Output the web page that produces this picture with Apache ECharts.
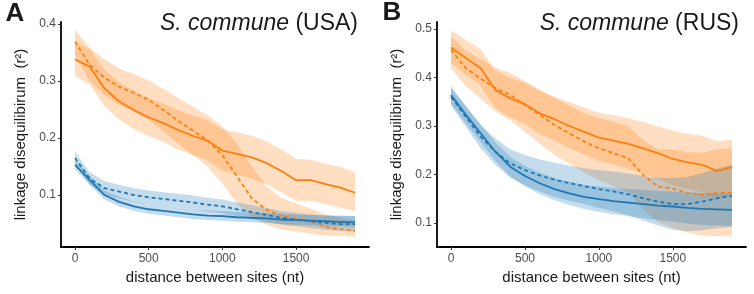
<!DOCTYPE html>
<html>
<head>
<meta charset="utf-8">
<script src="https://cdn.jsdelivr.net/npm/echarts@6/dist/echarts.min.js"></script>
<style>
  html, body { margin: 0; padding: 0; background: #fff; }
  #chart { width: 754px; height: 294px; }
</style>
</head>
<body>
<div id="chart"></div>
<script>
// distance between sites (nt)
var dist = [0,100,200,300,400,500,600,700,800,900,1000,1100,1200,1300,1400,1500,1600,1700,1800,1900];
var xTicks = [0, 500, 1000, 1500];
var usaTicks = [0.1, 0.2, 0.3, 0.4];
var rusTicks = [0.1, 0.2, 0.3, 0.4, 0.5];

// S. commune (USA)
var usaOrangeSolid   = [0.338,0.325,0.287,0.264,0.249,0.236,0.226,0.214,0.204,0.195,0.178,0.172,0.166,0.156,0.142,0.126,0.126,0.119,0.113,0.104];
var usaOrangeSolidHi = [0.370,0.356,0.320,0.298,0.283,0.270,0.260,0.249,0.239,0.231,0.215,0.210,0.204,0.194,0.180,0.163,0.162,0.155,0.149,0.140];
var usaOrangeSolidLo = [0.308,0.294,0.256,0.232,0.216,0.203,0.193,0.180,0.170,0.161,0.143,0.136,0.129,0.119,0.105,0.090,0.090,0.084,0.078,0.071];
var usaOrangeDash    = [0.369,0.328,0.306,0.290,0.279,0.267,0.249,0.230,0.213,0.196,0.170,0.132,0.094,0.074,0.063,0.059,0.053,0.044,0.040,0.037];
var usaOrangeDashHi  = [0.390,0.358,0.338,0.322,0.312,0.301,0.286,0.270,0.255,0.240,0.220,0.190,0.150,0.115,0.095,0.085,0.076,0.066,0.060,0.055];
var usaOrangeDashLo  = [0.346,0.300,0.275,0.258,0.246,0.232,0.212,0.190,0.170,0.150,0.120,0.085,0.060,0.048,0.040,0.036,0.032,0.029,0.028,0.027];
var usaBlueSolid     = [0.153,0.126,0.100,0.088,0.080,0.075,0.072,0.069,0.066,0.064,0.063,0.061,0.060,0.059,0.057,0.056,0.055,0.054,0.053,0.052];
var usaBlueSolidHi   = [0.161,0.134,0.108,0.097,0.089,0.084,0.081,0.078,0.075,0.073,0.072,0.070,0.069,0.068,0.067,0.066,0.065,0.064,0.064,0.063];
var usaBlueSolidLo   = [0.145,0.118,0.092,0.080,0.072,0.067,0.064,0.061,0.058,0.056,0.055,0.053,0.052,0.051,0.049,0.048,0.047,0.046,0.045,0.044];
var usaBlueDash      = [0.165,0.129,0.112,0.106,0.100,0.096,0.093,0.090,0.087,0.083,0.080,0.075,0.070,0.065,0.060,0.057,0.054,0.051,0.049,0.049];
var usaBlueDashHi    = [0.176,0.140,0.124,0.118,0.112,0.108,0.105,0.102,0.099,0.095,0.092,0.087,0.082,0.077,0.072,0.069,0.066,0.064,0.063,0.063];
var usaBlueDashLo    = [0.154,0.118,0.100,0.094,0.088,0.084,0.081,0.078,0.075,0.071,0.068,0.063,0.058,0.053,0.048,0.045,0.042,0.039,0.037,0.036];

// S. commune (RUS)
var rusOrangeSolid   = [0.462,0.440,0.419,0.374,0.357,0.345,0.326,0.314,0.300,0.288,0.276,0.270,0.263,0.254,0.244,0.232,0.225,0.220,0.207,0.215];
var rusOrangeSolidHi = [0.497,0.477,0.458,0.415,0.399,0.389,0.372,0.361,0.349,0.338,0.327,0.322,0.316,0.308,0.299,0.290,0.284,0.280,0.268,0.272];
var rusOrangeSolidLo = [0.430,0.406,0.383,0.336,0.318,0.304,0.283,0.270,0.254,0.241,0.228,0.220,0.212,0.202,0.191,0.178,0.170,0.164,0.150,0.158];
var rusOrangeDash    = [0.457,0.419,0.398,0.378,0.364,0.343,0.323,0.302,0.285,0.268,0.254,0.244,0.233,0.199,0.175,0.171,0.162,0.158,0.162,0.162];
var rusOrangeDashHi  = [0.485,0.455,0.438,0.420,0.410,0.392,0.375,0.357,0.342,0.327,0.316,0.308,0.300,0.270,0.252,0.252,0.246,0.245,0.252,0.254];
var rusOrangeDashLo  = [0.418,0.382,0.356,0.330,0.312,0.288,0.264,0.240,0.222,0.204,0.188,0.176,0.164,0.128,0.102,0.090,0.080,0.074,0.073,0.072];
var rusBlueSolid     = [0.364,0.323,0.285,0.247,0.216,0.197,0.182,0.170,0.161,0.154,0.149,0.145,0.142,0.139,0.136,0.134,0.131,0.129,0.128,0.127];
var rusBlueSolidHi   = [0.382,0.341,0.303,0.266,0.236,0.218,0.204,0.193,0.185,0.179,0.175,0.172,0.170,0.168,0.166,0.165,0.163,0.162,0.161,0.160];
var rusBlueSolidLo   = [0.346,0.305,0.267,0.228,0.196,0.176,0.160,0.147,0.137,0.129,0.123,0.118,0.114,0.110,0.106,0.103,0.099,0.096,0.095,0.094];
var rusBlueDash      = [0.360,0.319,0.278,0.247,0.223,0.209,0.198,0.189,0.182,0.176,0.170,0.165,0.159,0.151,0.144,0.139,0.139,0.144,0.151,0.156];
var rusBlueDashHi    = [0.378,0.340,0.302,0.274,0.252,0.240,0.231,0.224,0.218,0.213,0.209,0.206,0.202,0.197,0.193,0.192,0.195,0.203,0.213,0.220];
var rusBlueDashLo    = [0.342,0.298,0.254,0.220,0.194,0.178,0.165,0.154,0.146,0.139,0.131,0.124,0.116,0.105,0.095,0.086,0.083,0.085,0.089,0.092];

var ORANGE = '#ff7f0e';
var BLUE = '#1f77b4';
var FONT = 'Liberation Sans, Arial, sans-serif';

function pairs(ys) {
    return dist.map(function (d, i) { return [d, ys[i]]; });
}

// confidence band: one polygon, upper edge forward then lower edge back
function ribbon(gi, lo, hi, color) {
    return {
        type: 'custom', xAxisIndex: gi, yAxisIndex: gi, silent: true,
        data: [[dist[0], lo[0]]],
        renderItem: function (params, api) {
            var pts = [];
            for (var i = 0; i < dist.length; i++) pts.push(api.coord([dist[i], hi[i]]));
            for (var j = dist.length - 1; j >= 0; j--) pts.push(api.coord([dist[j], lo[j]]));
            return {
                type: 'polygon',
                shape: { points: pts },
                style: { fill: color, opacity: 0.26 }
            };
        }
    };
}

function line(gi, ys, color, dashed) {
    return {
        type: 'line', xAxisIndex: gi, yAxisIndex: gi, z: 5,
        data: pairs(ys), symbol: 'none', silent: true,
        lineStyle: { color: color, width: 1.8, type: dashed ? [4, 3] : 'solid' }
    };
}

function xAxis(gi) {
    return {
        type: 'value', gridIndex: gi, min: -95, max: 1995,
        name: 'distance between sites (nt)', nameLocation: 'middle', nameGap: 23,
        nameTextStyle: { color: '#1a1a1a', fontSize: 15, fontFamily: FONT },
        axisLine: { show: true, onZero: false, lineStyle: { color: '#000', width: 1.8 } },
        axisTick: { show: true, length: 3, customValues: xTicks, lineStyle: { color: '#333' } },
        axisLabel: {
            customValues: xTicks, color: '#4d4d4d', fontSize: 12, margin: 6, fontFamily: FONT,
            formatter: function (v) { return String(v); }
        },
        splitLine: { show: false }
    };
}

function yAxis(gi, min, max, ticks) {
    return {
        type: 'value', gridIndex: gi, min: min, max: max,
        name: 'linkage disequilibirum  (r²)', nameLocation: 'middle', nameGap: 33, nameRotate: 90,
        nameTextStyle: { color: '#1a1a1a', fontSize: 15, fontFamily: FONT },
        axisLine: { show: true, onZero: false, lineStyle: { color: '#000', width: 1.8 } },
        axisTick: { show: true, length: 3, customValues: ticks, lineStyle: { color: '#333' } },
        axisLabel: {
            customValues: ticks, color: '#4d4d4d', fontSize: 12, margin: 5, fontFamily: FONT,
            formatter: function (v) { return v.toFixed(1); }
        },
        splitLine: { show: false }
    };
}

var series = [
    ribbon(0, usaOrangeSolidLo, usaOrangeSolidHi, ORANGE),
    ribbon(0, usaOrangeDashLo, usaOrangeDashHi, ORANGE),
    ribbon(0, usaBlueSolidLo, usaBlueSolidHi, BLUE),
    ribbon(0, usaBlueDashLo, usaBlueDashHi, BLUE),
    ribbon(1, rusOrangeSolidLo, rusOrangeSolidHi, ORANGE),
    ribbon(1, rusOrangeDashLo, rusOrangeDashHi, ORANGE),
    ribbon(1, rusBlueSolidLo, rusBlueSolidHi, BLUE),
    ribbon(1, rusBlueDashLo, rusBlueDashHi, BLUE),
    line(0, usaOrangeSolid, ORANGE, false),
    line(0, usaOrangeDash, ORANGE, true),
    line(0, usaBlueSolid, BLUE, false),
    line(0, usaBlueDash, BLUE, true),
    line(1, rusOrangeSolid, ORANGE, false),
    line(1, rusOrangeDash, ORANGE, true),
    line(1, rusBlueSolid, BLUE, false),
    line(1, rusBlueDash, BLUE, true)
];

function titleText(x, text, place) {
    return {
        type: 'text', x: x, y: 24,
        style: {
            text: '{i|' + text + '}{n| (' + place + ')}',
            align: 'right', verticalAlign: 'middle',
            rich: {
                i: { fontSize: 23, fontStyle: 'italic', fontFamily: FONT, fill: '#1a1a1a' },
                n: { fontSize: 23, fontFamily: FONT, fill: '#1a1a1a' }
            }
        }
    };
}

var chart = echarts.init(document.getElementById('chart'));
chart.setOption({
    animation: false,
    grid: [
        { left: 61, right: 385, top: 22, bottom: 47 },
        { left: 437, right: 8, top: 22, bottom: 47 }
    ],
    xAxis: [xAxis(0), xAxis(1)],
    yAxis: [yAxis(0, 0.0088, 0.4035, usaTicks), yAxis(1, 0.0505, 0.5144, rusTicks)],
    series: series,
    graphic: [
        { type: 'text', x: 15, y: 14, style: { text: 'A', fontSize: 26, fontWeight: 'bold', fontFamily: FONT, fill: '#1a1a1a', align: 'center', verticalAlign: 'middle' } },
        { type: 'text', x: 392, y: 13, style: { text: 'B', fontSize: 26, fontWeight: 'bold', fontFamily: FONT, fill: '#1a1a1a', align: 'center', verticalAlign: 'middle' } },
        titleText(358, 'S. commune', 'USA'),
        titleText(739, 'S. commune', 'RUS')
    ]
});
</script>
</body>
</html>
